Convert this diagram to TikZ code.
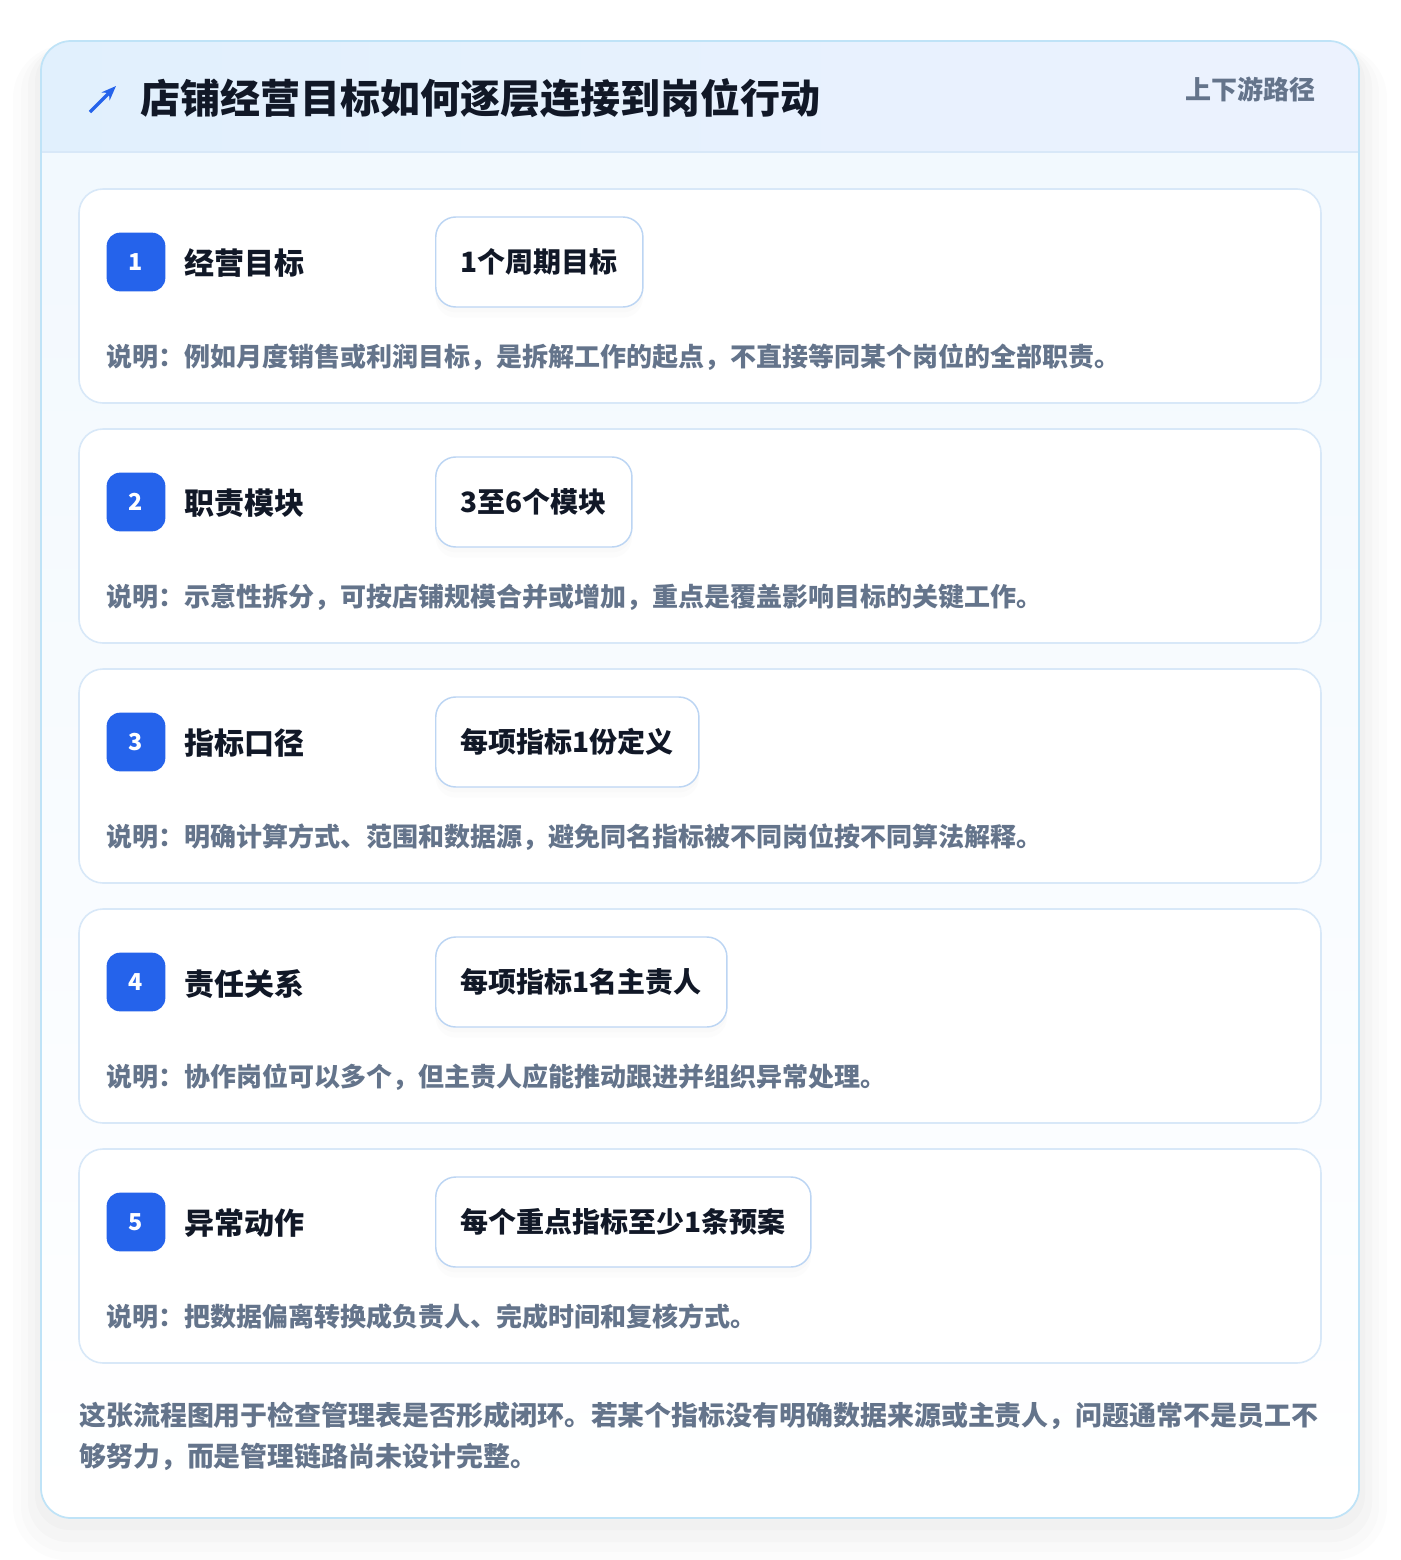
\documentclass[tikz,border=0pt]{standalone}
\usepackage{fontspec}
\setmainfont{Noto Sans CJK SC}
\usepackage{tikz}
\usetikzlibrary{arrows.meta,shadows}

\definecolor{badgeblue}{HTML}{2563EB}
\definecolor{ink}{HTML}{111827}
\definecolor{slate}{HTML}{64748B}
\definecolor{outerline}{HTML}{BFE3F7}
\definecolor{cardline}{HTML}{D8E8F8}
\definecolor{pillline}{HTML}{BCD5F3}
\definecolor{headleft}{HTML}{E1F0FD}
\definecolor{headright}{HTML}{ECF2FE}
\definecolor{bodytop}{HTML}{F1F8FE}

\begin{document}
\begin{tikzpicture}[x=0.75pt,y=-0.75pt,
  card/.style={draw=cardline,fill=white,line width=1.2pt,rounded corners=18pt},
  badge/.style={fill=badgeblue,rounded corners=10pt,minimum size=44pt,inner sep=0pt,text=white,font=\fontsize{17.5}{20}\selectfont\bfseries},
  stagelabel/.style={anchor=west,text=ink,font=\fontsize{22.5}{27}\selectfont\bfseries},
  pill/.style={draw=pillline,fill=white,line width=1.1pt,rounded corners=15pt,minimum height=67.5pt,inner xsep=18.8pt,anchor=west,text=ink,font=\fontsize{21}{25}\selectfont\bfseries,
    drop shadow={opacity=0.025,shadow xshift=0pt,shadow yshift=-4pt},drop shadow={opacity=0.02,shadow xshift=0pt,shadow yshift=-8pt}},
  note/.style={anchor=west,text=slate,font=\fontsize{19.5}{24}\selectfont\bfseries}]

\useasboundingbox (0,0) rectangle (1400,1560);
\fill[white] (0,0) rectangle (1400,1560);

% soft shadow round the panel, heavier below
\fill[black,opacity=0.010,rounded corners=40pt] (13,45) rectangle (1387,1560);
\fill[black,opacity=0.012,rounded corners=34pt] (21,47) rectangle (1379,1552);
\fill[black,opacity=0.014,rounded corners=30pt] (28,47) rectangle (1372,1542);
\fill[black,opacity=0.016,rounded corners=26pt] (35,47) rectangle (1365,1530);

% panel
\fill[top color=bodytop,bottom color=white,rounded corners=22.5pt] (41,41) rectangle (1359,1518);
\begin{scope}
\clip[rounded corners=22.5pt] (41,41) rectangle (1359,1518);
\fill[left color=headleft,right color=headright] (41,41) rectangle (1359,152);
\draw[cardline,line width=1pt] (41,152) -- (1359,152);
\end{scope}
\draw[outerline,line width=1.3pt,rounded corners=22.5pt] (41,41) rectangle (1359,1518);

% header
\draw[badgeblue,line width=2.4pt,-{Stealth[length=11pt,width=8.5pt]}] (90,112) -- (116,86);
\node[anchor=west,text=ink,font=\fontsize{30}{36}\selectfont\bfseries] (title) at (136,98) {店铺经营目标如何逐层连接到岗位行动};
\node[anchor=east,text=slate,font=\fontsize{19.5}{24}\selectfont\bfseries] (path) at (1320,89) {上下游路径};

% stage 1
\draw[card] (79,189) rectangle (1321,403);
\node[badge] (b1) at (136,262) {1};
\node[stagelabel] (s1) at (180,263) {经营目标};
\node[pill] (p1) at (435,262) {1个周期目标};
\node[note] (n1) at (102,357) {说明：例如月度销售或利润目标，是拆解工作的起点，不直接等同某个岗位的全部职责。};

% stage 2
\draw[card] (79,429) rectangle (1321,643);
\node[badge] (b2) at (136,502) {2};
\node[stagelabel] (s2) at (180,503) {职责模块};
\node[pill] (p2) at (435,502) {3至6个模块};
\node[note] (n2) at (102,597) {说明：示意性拆分，可按店铺规模合并或增加，重点是覆盖影响目标的关键工作。};

% stage 3
\draw[card] (79,669) rectangle (1321,883);
\node[badge] (b3) at (136,742) {3};
\node[stagelabel] (s3) at (180,743) {指标口径};
\node[pill] (p3) at (435,742) {每项指标1份定义};
\node[note] (n3) at (102,837) {说明：明确计算方式、范围和数据源，避免同名指标被不同岗位按不同算法解释。};

% stage 4
\draw[card] (79,909) rectangle (1321,1123);
\node[badge] (b4) at (136,982) {4};
\node[stagelabel] (s4) at (180,984) {责任关系};
\node[pill] (p4) at (435,982) {每项指标1名主责人};
\node[note] (n4) at (102,1077) {说明：协作岗位可以多个，但主责人应能推动跟进并组织异常处理。};

% stage 5
\draw[card] (79,1149) rectangle (1321,1363);
\node[badge] (b5) at (136,1222) {5};
\node[stagelabel] (s5) at (180,1223) {异常动作};
\node[pill] (p5) at (435,1222) {每个重点指标至少1条预案};
\node[note] (n5) at (102,1317) {说明：把数据偏离转换成负责人、完成时间和复核方式。};

% closing remark
\node[anchor=north west,text=slate,align=left,inner sep=0pt,font=\fontsize{20.2}{30.75}\selectfont\bfseries] (remark) at (79,1402)
  {这张流程图用于检查管理表是否形成闭环。若某个指标没有明确数据来源或主责人，问题通常不是员工不\\够努力，而是管理链路尚未设计完整。};
\end{tikzpicture}
\end{document}
